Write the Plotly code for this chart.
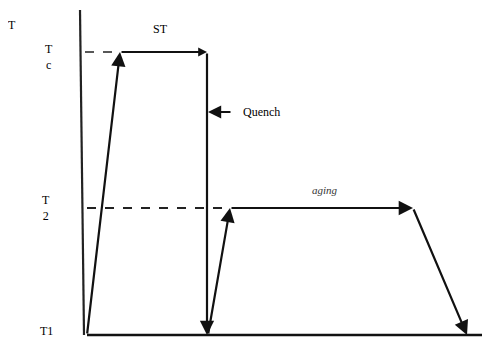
import plotly.graph_objects as go

# heat treatment cycle: time (arbitrary units) vs temperature level
T1 = 0
T2 = 127
Tc = 283

# path points of the cycle (time, temperature)
path_t = [0, 33, 120, 120, 143, 326, 380]
path_T = [T1, Tc, Tc, T1, T2, T2, T1]

level_labels = ["T<br>c", "T<br>2", "T1"]
stage_labels = ["ST", "Quench", "<i>aging</i>"]

fig = go.Figure()

font = dict(family="Liberation Serif", size=12, color="black")

# time axis (baseline) and temperature axis
fig.add_trace(go.Scatter(x=[0, 403], y=[T1, T1], mode="lines",
                         line=dict(color="#111", width=2.5), hoverinfo="skip"))
fig.add_trace(go.Scatter(x=[-3, -7], y=[T1, 325], mode="lines",
                         line=dict(color="#222", width=2.2), hoverinfo="skip"))

# dashed reference levels
fig.add_trace(go.Scatter(x=[-2, 33], y=[Tc, Tc], mode="lines",
                         line=dict(color="#222", width=1.3, dash="dash"), hoverinfo="skip"))
fig.add_trace(go.Scatter(x=[0, 143], y=[T2, T2], mode="lines",
                         line=dict(color="#222", width=1.8, dash="dash"), hoverinfo="skip"))

# cycle segments as arrows (hold at Tc has a small head)
for i in range(len(path_t) - 1):
    t0, y0 = path_t[i], path_T[i]
    t1, y1 = path_t[i + 1], path_T[i + 1]
    if i == 3:
        t0 = t0 + 1
    fig.add_annotation(x=t1, y=y1, ax=t0, ay=y0, xref="x", yref="y",
                       axref="x", ayref="y", text="", showarrow=True,
                       arrowhead=2, arrowsize=0.8 if i == 1 else 1.3,
                       arrowwidth=2.2, arrowcolor="#111")

# quench pointer
fig.add_annotation(x=121, y=223, ax=145, ay=223, xref="x", yref="y",
                   axref="x", ayref="y", text="", showarrow=True,
                   arrowhead=2, arrowsize=1.2, arrowwidth=2.2, arrowcolor="#111")

# texts
fig.add_annotation(x=73, y=306, text=stage_labels[0], showarrow=False, font=font)
fig.add_annotation(x=154, y=223, text=stage_labels[1], showarrow=False,
                   font=font, xanchor="left")
fig.add_annotation(x=238, y=145, text=stage_labels[2], showarrow=False,
                   font=dict(family="Liberation Serif, DejaVu Serif, serif",
                             size=11, color="#333"))
fig.add_annotation(x=-75, y=310, text="T", showarrow=False, font=font)
fig.add_annotation(x=-38, y=Tc - 5, text=level_labels[0], showarrow=False, font=font)
fig.add_annotation(x=-41, y=T2, text=level_labels[1], showarrow=False, font=font)
fig.add_annotation(x=-41, y=T1 + 4, text=level_labels[2], showarrow=False, font=font)

# page has an 8px body margin, ranges chosen so the drawing lines up
fig.update_xaxes(range=[-79, 403], visible=False)
fig.update_yaxes(range=[-4, 327], visible=False)
fig.update_layout(width=482, height=331, margin=dict(l=0, r=0, t=0, b=0),
                  plot_bgcolor="white", paper_bgcolor="white", showlegend=False)

fig.write_html("out.html")
